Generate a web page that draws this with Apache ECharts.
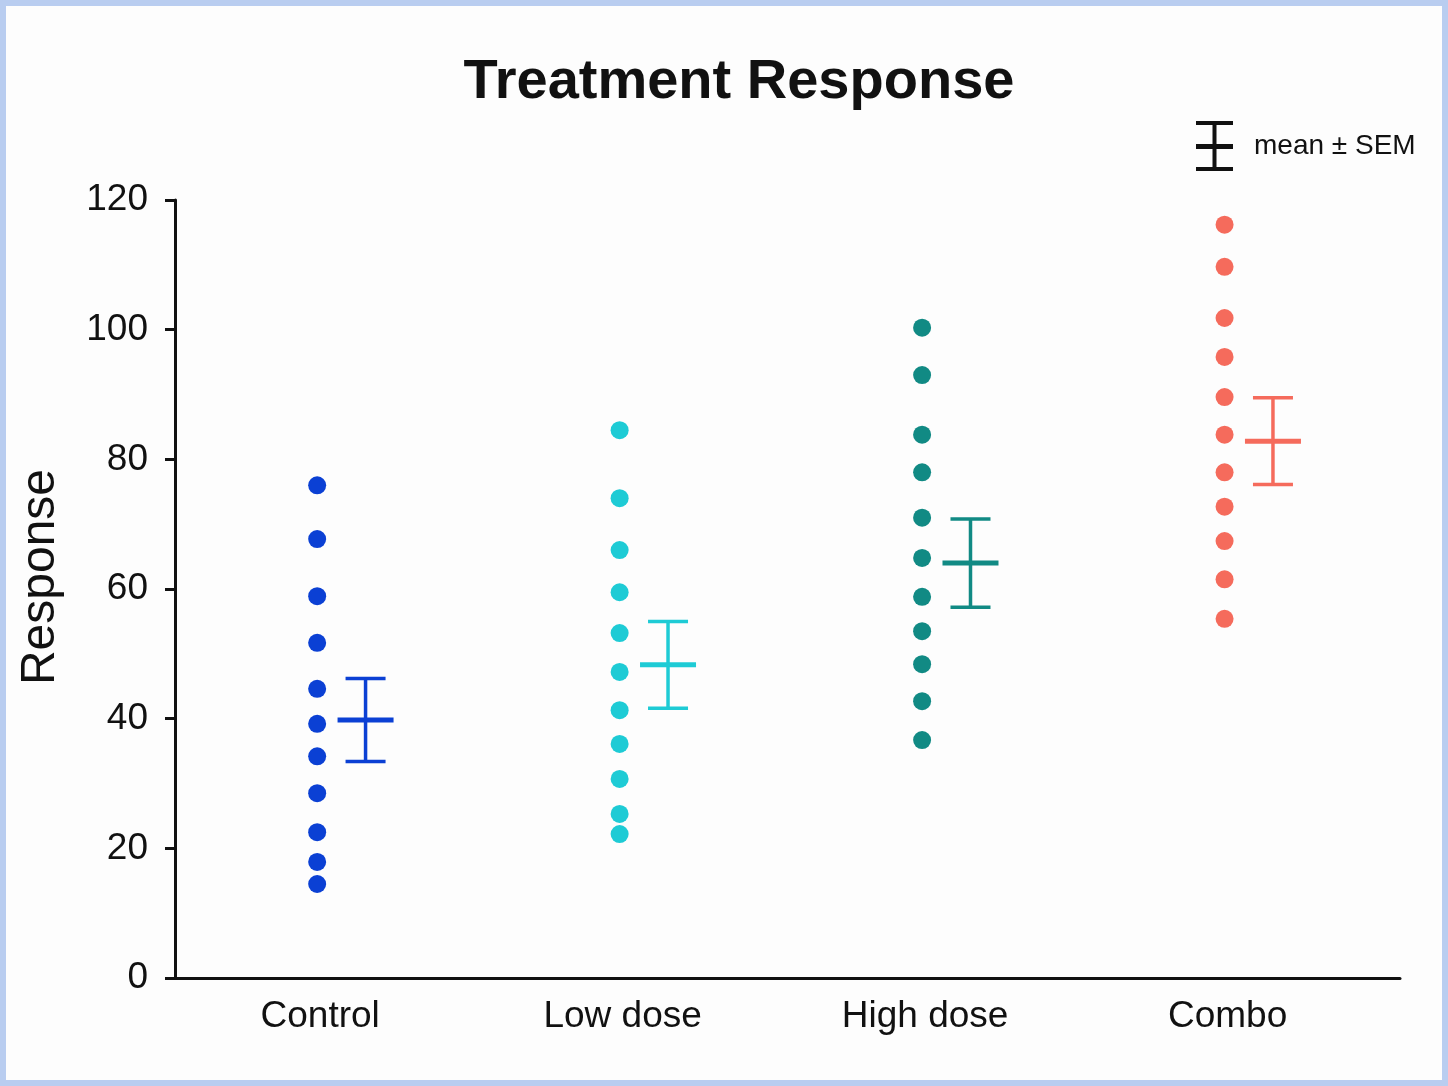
<!DOCTYPE html>
<html>
<head>
<meta charset="utf-8">
<title>Treatment Response</title>
<script src="https://cdn.jsdelivr.net/npm/echarts@6/dist/echarts.min.js"></script>
<style>
  html, body { margin: 0; padding: 0; background: #fdfdfd; }
  #chart { width: 1448px; height: 1086px; }
  #frame {
    position: absolute; left: 0; top: 0; width: 1448px; height: 1086px;
    box-sizing: border-box; border: 6px solid #b9cdf0; pointer-events: none;
  }
</style>
</head>
<body>
<div id="chart"></div>
<div id="frame"></div>
<script>
// ===== data =====
const groups = ['Control', 'Low dose', 'High dose', 'Combo'];
const colors = ['#0b40d4', '#1ecbd5', '#118a84', '#f56b5c'];

const controlValues = [76.0, 67.7, 58.9, 51.7, 44.6, 39.2, 34.2, 28.5, 22.5, 17.9, 14.5];
const lowDoseValues = [84.5, 74.0, 66.0, 59.5, 53.2, 47.2, 41.3, 36.1, 30.7, 25.3, 22.2];
const highDoseValues = [100.3, 93.0, 83.8, 78.0, 71.0, 64.8, 58.8, 53.5, 48.4, 42.7, 36.7];
const comboValues = [116.2, 109.7, 101.8, 95.8, 89.6, 83.8, 78.0, 72.7, 67.4, 61.5, 55.4];

const groupMeans = [39.8, 48.3, 64.0, 82.8];
const groupSEM = [6.4, 6.7, 6.8, 6.7];

const yTicks = { min: 0, max: 120, step: 20 };

// ===== layout constants =====
const FONT = "'Liberation Sans Narrow', 'Liberation Sans', Arial, sans-serif";
const DOT_OFFSET = -0.01;
const BAR_OFFSET = 0.15;   // error bar sits right of the dots
const CAP_HALF = 20;
const MEAN_HALF = 28;

const allValues = [controlValues, lowDoseValues, highDoseValues, comboValues];

const chart = echarts.init(document.getElementById('chart'));

const scatterSeries = groups.map((g, i) => ({
  name: g,
  type: 'scatter',
  symbol: 'circle',
  symbolSize: 18,
  itemStyle: { color: colors[i], opacity: 1 },
  emphasis: { disabled: true },
  data: allValues[i].map(v => [i + 1 + DOT_OFFSET, v])
}));

function renderErrorBar(params, api) {
  const x = api.value(0);
  const c = api.coord([x, api.value(1)]);
  const lo = api.coord([x, api.value(2)]);
  const hi = api.coord([x, api.value(3)]);
  const color = api.visual('color');
  const thin = { stroke: color, lineWidth: 3.5 };
  return {
    type: 'group',
    children: [
      { type: 'line', shape: { x1: c[0], y1: hi[1], x2: c[0], y2: lo[1] }, style: thin },
      { type: 'line', shape: { x1: c[0] - CAP_HALF, y1: hi[1], x2: c[0] + CAP_HALF, y2: hi[1] }, style: thin },
      { type: 'line', shape: { x1: c[0] - CAP_HALF, y1: lo[1], x2: c[0] + CAP_HALF, y2: lo[1] }, style: thin },
      { type: 'line', shape: { x1: c[0] - MEAN_HALF, y1: c[1], x2: c[0] + MEAN_HALF, y2: c[1] }, style: { stroke: color, lineWidth: 5 } }
    ]
  };
}

const errorSeries = {
  name: 'mean ± SEM',
  type: 'custom',
  renderItem: renderErrorBar,
  z: 3,
  data: groups.map((g, i) => ({
    value: [i + 1 + BAR_OFFSET, groupMeans[i], groupMeans[i] - groupSEM[i], groupMeans[i] + groupSEM[i]],
    itemStyle: { color: colors[i] }
  }))
};

const option = {
  backgroundColor: '#fdfdfd',
  animation: false,
  title: {
    text: 'Treatment Response',
    left: 734,
    top: 50,
    textAlign: 'center',
    textStyle: { fontFamily: FONT, fontSize: 56, fontWeight: 'bold', color: '#111' }
  },
  legend: {
    left: 1196,
    top: 121,
    padding: 0,
    itemWidth: 37,
    itemHeight: 50,
    data: [{
      name: 'mean ± SEM',
      icon: 'path://M0,0h37v4h-37z M16.5,0h4v50h-4z M0,23h37v5h-37z M0,46h37v4h-37z',
      itemStyle: { color: '#111' }
    }],
    textStyle: { fontFamily: FONT, fontSize: 28, color: '#111', padding: [6, 0, 0, 16] },
    selectedMode: false
  },
  grid: { left: 175, right: 48, top: 200, bottom: 108 },
  xAxis: {
    type: 'value',
    min: 0.52,
    max: 4.57,
    interval: 0.04,
    splitLine: { show: false },
    axisTick: { show: false },
    axisLine: { lineStyle: { color: '#111', width: 3 } },
    axisLabel: {
      margin: 20,
      fontFamily: FONT,
      fontSize: 37,
      color: '#111',
      formatter: v => {
        const k = Math.round(v);
        return Math.abs(v - k) < 1e-6 && k >= 1 && k <= groups.length ? groups[k - 1] : '';
      }
    }
  },
  yAxis: {
    type: 'value',
    min: yTicks.min,
    max: yTicks.max,
    interval: yTicks.step,
    name: 'Response',
    nameLocation: 'middle',
    nameRotate: 90,
    nameGap: 110,
    nameTextStyle: { fontFamily: FONT, fontSize: 48, color: '#111', padding: [0, 0, 0, 24] },
    splitLine: { show: false },
    axisLine: { show: true, lineStyle: { color: '#111', width: 3 } },
    axisTick: { show: true, inside: false, length: 10, lineStyle: { color: '#111', width: 3 } },
    axisLabel: { margin: 27, fontFamily: FONT, fontSize: 37, color: '#111' }
  },
  series: [...scatterSeries, errorSeries]
};

chart.setOption(option);
</script>
</body>
</html>
